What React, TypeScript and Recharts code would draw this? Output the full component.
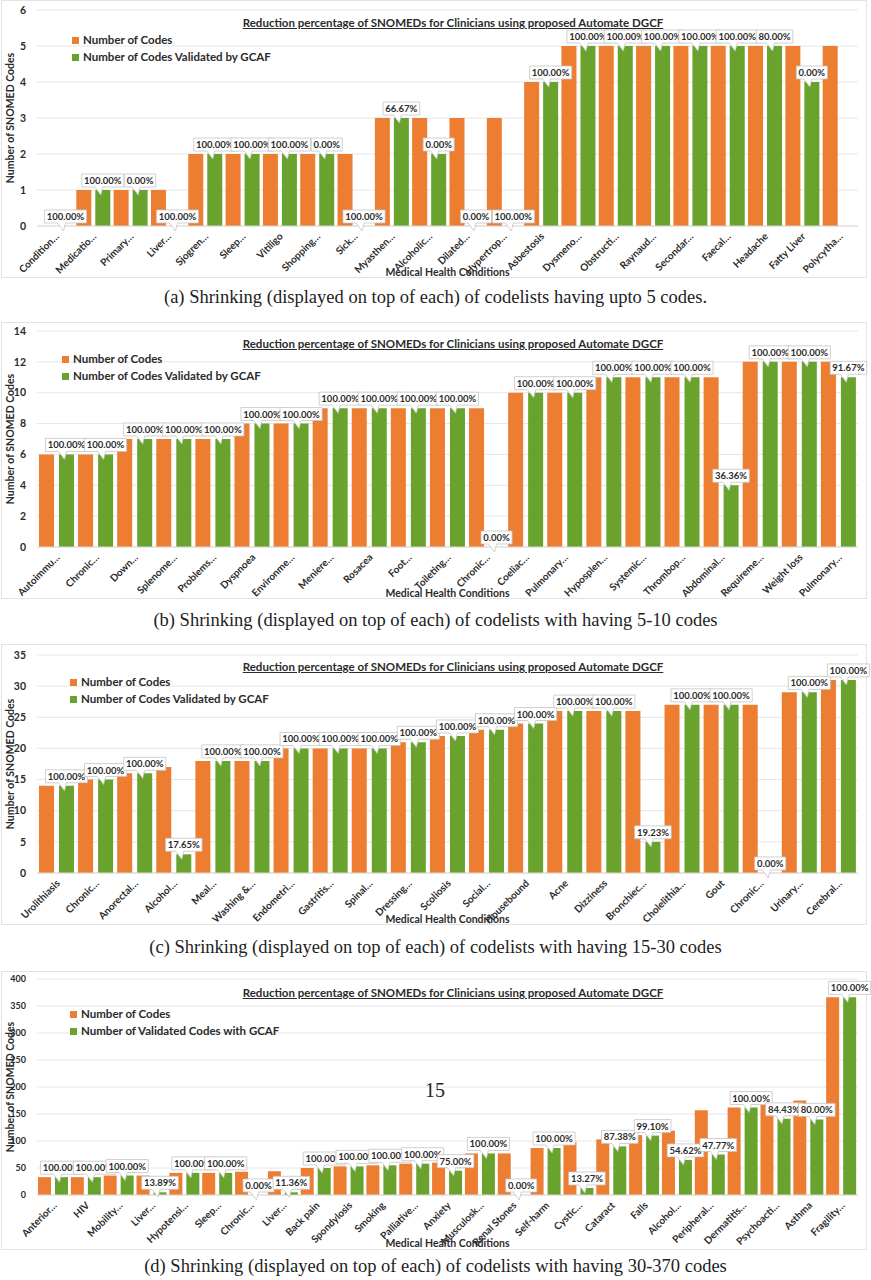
import React from 'react';
import { BarChart, Bar, XAxis, YAxis, CartesianGrid, Legend, LabelList } from 'recharts';

const ORANGE = '#ED7D31';
const GREEN = '#6AA22E';
const FONT = 'Lato, "Open Sans", sans-serif';
const INK = '#2b2b2b';

// (a) codelists having up to 5 codes
const catsA = ['Condition…', 'Medicatio…', 'Primary…', 'Liver…', 'Sjogren…', 'Sleep…', 'Vitiligo', 'Shopping…', 'Sick…', 'Myasthen…', 'Alcoholic…', 'Dilated…', 'Hypertrop…', 'Asbestosis', 'Dysmeno…', 'Obstructi…', 'Raynaud…', 'Secondar…', 'Faecal…', 'Headache', 'Fatty Liver', 'Polycytha…'];
const codesA = [0, 1, 1, 1, 2, 2, 2, 2, 2, 3, 3, 3, 3, 4, 5, 5, 5, 5, 5, 5, 5, 5];
const validA = [0, 1, 1, 0, 2, 2, 2, 2, 0, 3, 2, 0, 0, 4, 5, 5, 5, 5, 5, 5, 4, 0];
const pctA = ['100.00%', '100.00%', '0.00%', '100.00%', '100.00%', '100.00%', '100.00%', '0.00%', '100.00%', '66.67%', '0.00%', '0.00%', '100.00%', '100.00%', '100.00%', '100.00%', '100.00%', '100.00%', '100.00%', '80.00%', '0.00%', ''];

// (b) 5-10 codes
const catsB = ['Autoimmu…', 'Chronic…', 'Down…', 'Splenome…', 'Problems…', 'Dyspnoea', 'Environme…', 'Meniere…', 'Rosacea', 'Foot…', 'Toileting…', 'Chronic…', 'Coeliac…', 'Pulmonary…', 'Hyposplen…', 'Systemic…', 'Thrombop…', 'Abdominal…', 'Requireme…', 'Weight loss', 'Pulmonary…'];
const codesB = [6, 6, 7, 7, 7, 8, 8, 9, 9, 9, 9, 9, 10, 10, 11, 11, 11, 11, 12, 12, 12];
const validB = [6, 6, 7, 7, 7, 8, 8, 9, 9, 9, 9, 0, 10, 10, 11, 11, 11, 4, 12, 12, 11];
const pctB = ['100.00%', '100.00%', '100.00%', '100.00%', '100.00%', '100.00%', '100.00%', '100.00%', '100.00%', '100.00%', '100.00%', '0.00%', '100.00%', '100.00%', '100.00%', '100.00%', '100.00%', '36.36%', '100.00%', '100.00%', '91.67%'];

// (c) 15-30 codes
const catsC = ['Urolithiasis', 'Chronic…', 'Anorectal…', 'Alcohol…', 'Meal…', 'Washing &…', 'Endometri…', 'Gastritis…', 'Spinal…', 'Dressing…', 'Scoliosis', 'Social…', 'Housebound', 'Acne', 'Dizziness', 'Bronchiec…', 'Cholelithia…', 'Gout', 'Chronic…', 'Urinary…', 'Cerebral…'];
const codesC = [14, 15, 16, 17, 18, 18, 20, 20, 20, 21, 22, 23, 24, 26, 26, 26, 27, 27, 27, 29, 31];
const validC = [14, 15, 16, 3, 18, 18, 20, 20, 20, 21, 22, 23, 24, 26, 26, 5, 27, 27, 0, 29, 31];
const pctC = ['100.00%', '100.00%', '100.00%', '17.65%', '100.00%', '100.00%', '100.00%', '100.00%', '100.00%', '100.00%', '100.00%', '100.00%', '100.00%', '100.00%', '100.00%', '19.23%', '100.00%', '100.00%', '0.00%', '100.00%', '100.00%'];

// (d) 30-370 codes
const catsD = ['Anterior…', 'HIV', 'Mobility…', 'Liver…', 'Hypotensi…', 'Sleep…', 'Chronic…', 'Liver…', 'Back pain', 'Spondylosis', 'Smoking', 'Palliative…', 'Anxiety', 'Musculosk…', 'Renal Stones', 'Self-harm', 'Cystic…', 'Cataract', 'Falls', 'Alcohol…', 'Peripheral…', 'Dermatitis…', 'Psychoacti…', 'Asthma', 'Fragility…'];
const codesD = [33, 33, 36, 36, 41, 41, 43, 44, 50, 53, 55, 58, 60, 77, 77, 87, 98, 103, 111, 119, 157, 162, 167, 175, 366];
const validD = [33, 33, 36, 5, 41, 41, 0, 5, 50, 53, 55, 58, 45, 77, 0, 87, 13, 90, 110, 65, 75, 162, 141, 140, 366];
const pctD = ['100.00%', '100.00%', '100.00%', '13.89%', '100.00%', '100.00%', '0.00%', '11.36%', '100.00%', '100.00%', '100.00%', '100.00%', '75.00%', '100.00%', '0.00%', '100.00%', '13.27%', '87.38%', '99.10%', '54.62%', '47.77%', '100.00%', '84.43%', '80.00%', '100.00%'];

const ticksA = [0, 1, 2, 3, 4, 5, 6];
const ticksB = [0, 2, 4, 6, 8, 10, 12, 14];
const ticksC = [0, 5, 10, 15, 20, 25, 30, 35];
const ticksD = [0, 50, 100, 150, 200, 250, 300, 350, 400];

const TITLE = 'Reduction percentage of SNOMEDs for Clinicians using proposed Automate DGCF';

const toRows = (cats: string[], codes: number[], valid: number[], pct: string[]) =>
  cats.map((name, i) => ({ name, codes: codes[i], valid: valid[i], pct: pct[i] }));

const textW = (s: string, fs: number) =>
  s.split('').reduce((w, c) => w + (c === '.' ? 0.27 : c === '%' ? 0.84 : 0.58), 0) * fs;

const Callout = (props: any) => {
  const { x, y, width, value } = props;
  if (!value) return null;
  const fs = 9.5;
  const cx = x + width / 2;
  const w = textW(String(value), fs) + 4;
  const bottom = y - 3;
  const top = bottom - 13;
  const left = cx - w / 2;
  const d = `M${left},${top}H${left + w}V${bottom}H${cx}L${cx - 2},${y + 5}L${cx - 8},${bottom}H${left}Z`;
  return (
    <g>
      <path d={d} fill="#fff" stroke="#c4c4c4" strokeWidth={0.8} />
      <text x={cx} y={bottom - 3} textAnchor="middle" fontSize={fs} fontWeight={700} fontFamily={FONT} fill={INK}>
        {value}
      </text>
    </g>
  );
};

const CatTick = (props: any) => {
  const { x, y, payload } = props;
  return (
    <g transform={`translate(${x + 4},${y + 11})`}>
      <text transform="rotate(-45)" textAnchor="end" fontSize={10} fontWeight={700} fontFamily={FONT} fill={INK}>
        {payload.value}
      </text>
    </g>
  );
};

type PanelProps = {
  rows: any[];
  top: number;
  height: number;
  marginTop: number;
  xh: number;
  xOffset: number;
  yMax: number;
  ticks: number[];
  tickFont: number;
  barSize: number;
  barGap: number;
  validName: string;
  legendTop: number;
  legendLeft: number;
  titleTop: number;
};

const Panel = (p: PanelProps) => (
  <div style={{ position: 'absolute', left: 0, top: p.top, width: 871, height: p.height }}>
    <div style={{ position: 'absolute', left: 1, top: 0, width: 866, height: p.height, border: '1px solid #e2e2e2', boxSizing: 'border-box' }} />
    <BarChart
      width={871}
      height={p.height}
      data={p.rows}
      barGap={p.barGap}
      margin={{ top: p.marginTop, right: 13, bottom: 0, left: 0 }}
    >
      <CartesianGrid vertical={false} stroke="#e6e6e6" />
      <XAxis
        dataKey="name"
        interval={0}
        tickLine={false}
        tickSize={0}
        tickMargin={0}
        axisLine={{ stroke: '#d9d9d9' }}
        height={p.xh}
        tick={<CatTick />}
        label={{ value: 'Medical Health Conditions', position: 'insideBottom', offset: p.xOffset, fill: INK, fontSize: 10.5, fontWeight: 700, fontFamily: FONT }}
      />
      <YAxis
        domain={[0, p.yMax]}
        ticks={p.ticks}
        axisLine={false}
        tickLine={false}
        tickSize={0}
        tickMargin={11}
        width={37}
        tick={{ fontSize: p.tickFont, fontWeight: 700, fill: INK, fontFamily: FONT }}
        label={{ value: 'Number of SNOMED Codes', angle: -90, position: 'center', dx: -8, fill: INK, fontSize: 10.5, fontWeight: 700, fontFamily: FONT }}
      />
      <Legend
        layout="vertical"
        align="center"
        verticalAlign="middle"
        iconType="square"
        iconSize={7}
        wrapperStyle={{ top: p.legendTop, left: p.legendLeft, lineHeight: '16px' }}
        formatter={(value: string) => (
          <span style={{ color: INK, fontWeight: 700, fontSize: 11.5, fontFamily: FONT }}>{value}</span>
        )}
      />
      <Bar dataKey="codes" name="Number of Codes" fill={ORANGE} barSize={p.barSize} isAnimationActive={false} />
      <Bar dataKey="valid" name={p.validName} fill={GREEN} barSize={p.barSize} minPointSize={0.01} isAnimationActive={false}>
        <LabelList dataKey="pct" content={<Callout />} />
      </Bar>
    </BarChart>
    <div
      style={{
        position: 'absolute', left: 153, width: 600, top: p.titleTop - 8, textAlign: 'center',
        fontFamily: FONT, fontSize: 11.5, fontWeight: 700, color: INK, textDecoration: 'underline', lineHeight: '16px',
      }}
    >
      {TITLE}
    </div>
  </div>
);

const Caption = ({ y, text }: { y: number; text: string }) => (
  <div
    style={{
      position: 'absolute', left: 0, width: 871, top: y - 12, textAlign: 'center',
      fontFamily: '"Liberation Serif", serif', fontSize: 18.5, lineHeight: '24px', color: '#222',
    }}
  >
    {text}
  </div>
);

export default function App() {
  return (
    <div style={{ position: 'absolute', left: 0, top: 0, width: 871, height: 1280, background: '#fff', overflow: 'hidden' }}>
      <Panel rows={toRows(catsA, codesA, validA, pctA)} top={0} height={278} marginTop={10} xh={52} xOffset={2}
        yMax={6} ticks={ticksA} tickFont={10.5} barSize={15} barGap={4} validName="Number of Codes Validated by GCAF"
        legendTop={31} legendLeft={72} titleTop={23} />
      <Caption y={297} text="(a) Shrinking (displayed on top of each) of codelists having upto 5 codes." />

      <Panel rows={toRows(catsB, codesB, validB, pctB)} top={322} height={277} marginTop={9} xh={52} xOffset={2}
        yMax={14} ticks={ticksB} tickFont={10.5} barSize={15} barGap={5} validName="Number of Codes Validated by GCAF"
        legendTop={28} legendLeft={62} titleTop={22} />
      <Caption y={620} text="(b) Shrinking (displayed on top of each) of codelists with having 5-10 codes" />

      <Panel rows={toRows(catsC, codesC, validC, pctC)} top={644} height={281} marginTop={11} xh={52} xOffset={2}
        yMax={35} ticks={ticksC} tickFont={10.5} barSize={15} barGap={5} validName="Number of Codes Validated by GCAF"
        legendTop={29} legendLeft={70} titleTop={23} />
      <Caption y={947} text="(c) Shrinking (displayed on top of each) of codelists with having 15-30 codes" />

      <Panel rows={toRows(catsD, codesD, validD, pctD)} top={971} height={279} marginTop={8} xh={55} xOffset={3}
        yMax={400} ticks={ticksD} tickFont={9} barSize={13} barGap={4} validName="Number of Validated Codes with GCAF"
        legendTop={34} legendLeft={70} titleTop={22} />
      <Caption y={1266} text="(d) Shrinking (displayed on top of each) of codelists with having 30-370 codes" />

      <div style={{ position: 'absolute', left: 405, width: 60, top: 1078, textAlign: 'center', fontFamily: '"Liberation Serif", serif', fontSize: 20, lineHeight: '24px', color: '#222' }}>
        15
      </div>
    </div>
  );
}
